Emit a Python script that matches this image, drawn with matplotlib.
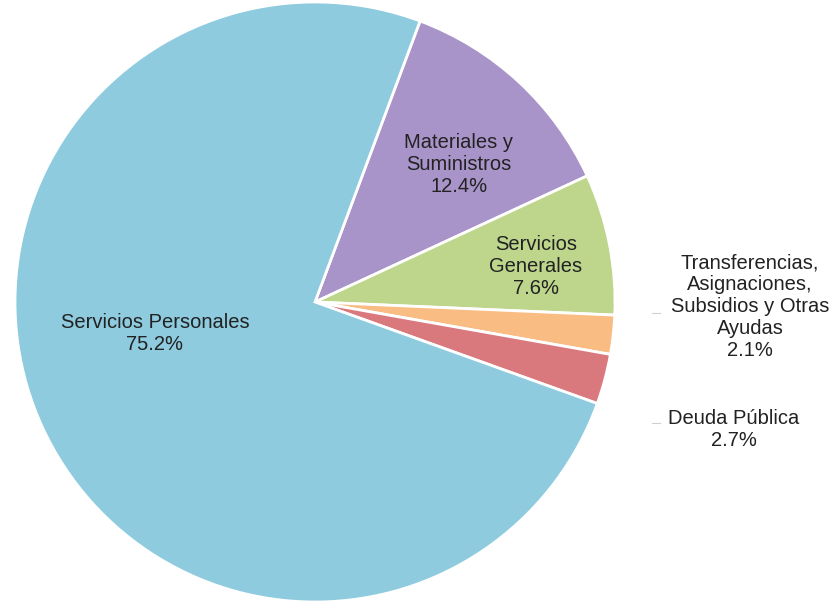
import matplotlib.pyplot as plt

plt.rcParams['font.family'] = ['Liberation Sans', 'DejaVu Sans']

categories = ["Materiales y\nSuministros", "Servicios\nGenerales",
              "Transferencias,\nAsignaciones,\nSubsidios y Otras\nAyudas",
              "Deuda Pública", "Servicios Personales"]
shares = [12.4, 7.6, 2.1, 2.7, 75.2]
colors = ["#a994c9", "#bdd68c", "#f9bd84", "#d9797e", "#8ecbdf"]

W, H = 833, 605
fig = plt.figure(figsize=(W / 100, H / 100), dpi=100)
ax = fig.add_axes([0, 0, 1, 1])

# pie centre / radius in pixel units (y measured from bottom)
cx, cy, r = 315, H - 302, 300
ax.pie(shares, colors=colors, startangle=69.5, counterclock=False,
       center=(cx, cy), radius=r, frame=True,
       wedgeprops=dict(edgecolor='white', linewidth=2))
ax.set_xlim(0, W)
ax.set_ylim(0, H)
ax.set_aspect('equal')
ax.axis('off')

# label positions (pixel coords from top)
label_pos = [(459, 165), (536, 267), (750, 307), (734, 429), (155, 334)]
for cat, val, (lx, ly) in zip(categories, shares, label_pos):
    txt = cat + "\n" + f"{val:.1f}%"
    ax.text(lx, H - ly, txt, ha='center', va='center', fontsize=14.5,
            color='#222222', linespacing=1.2)

# tiny leader marks for outside labels
for ly in (313, 423):
    ax.plot([652, 660], [H - ly, H - ly], color='#d0d0d0', lw=0.8)

fig.savefig("out.png", dpi=100)
